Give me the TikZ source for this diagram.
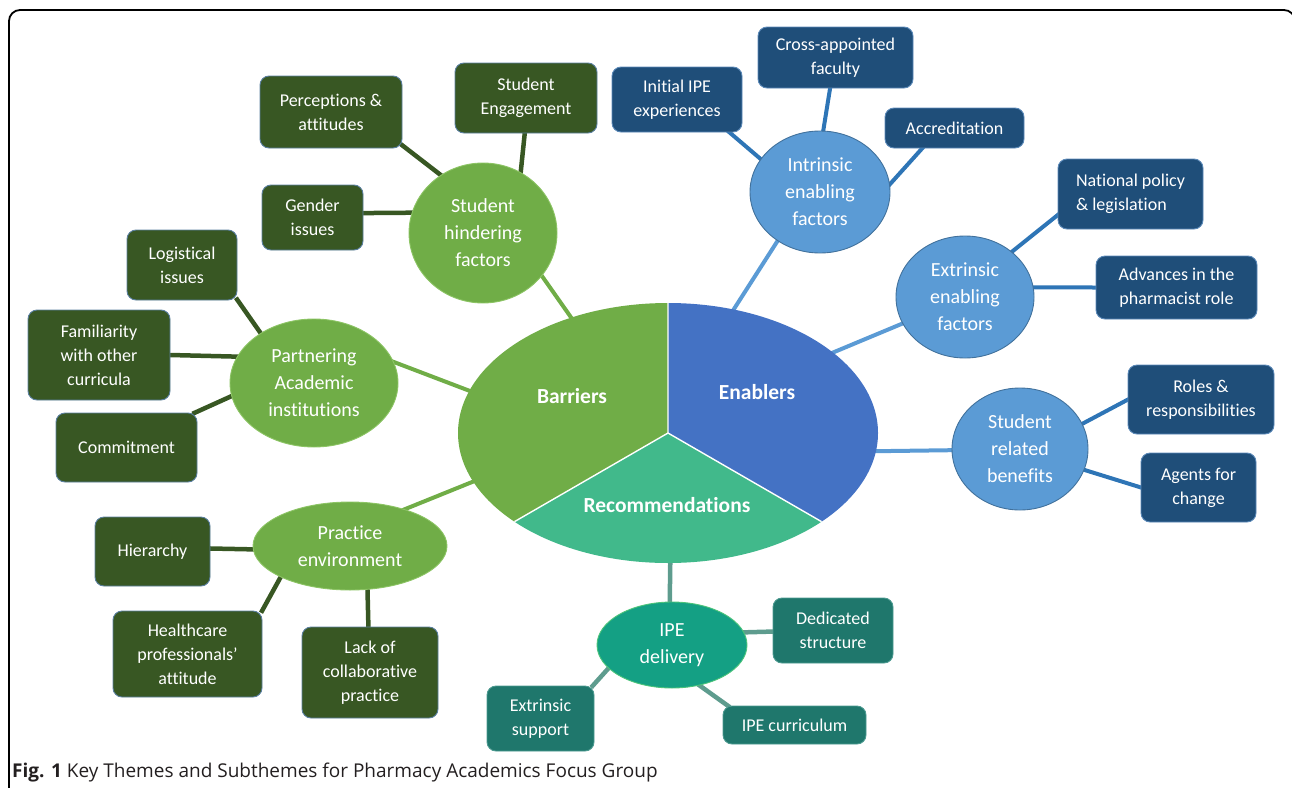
\documentclass[tikz,border=0pt]{standalone}
\usepackage{fontspec}
\setmainfont{Carlito}[Ligatures={NoCommon}]
\newfontfamily\capfont{Open Sans}
\usetikzlibrary{shapes.geometric,calc}
\pgfdeclarelayer{bg}
\pgfsetlayers{bg,main}
\definecolor{dgreen}{HTML}{385723}
\definecolor{lgreen}{HTML}{70AD47}
\definecolor{gcircline}{HTML}{8CC464}
\definecolor{gboxline}{HTML}{5A7FA0}
\definecolor{dblue}{HTML}{1F4E79}
\definecolor{bboxline}{HTML}{5B89B8}
\definecolor{lblue}{HTML}{5B9BD5}
\definecolor{bcircline}{HTML}{41719C}
\definecolor{mblue}{HTML}{2E75B6}
\definecolor{coreblue}{HTML}{4472C4}
\definecolor{corerec}{HTML}{41B98B}
\definecolor{ipefill}{HTML}{14A084}
\definecolor{ipeline}{HTML}{4CC47A}
\definecolor{tboxfill}{HTML}{1F776C}
\definecolor{tboxline}{HTML}{4C9A90}
\definecolor{tline}{HTML}{5E9C8E}
\definecolor{captext}{HTML}{231F20}
\newcommand{\bxf}{\fontsize{18}{24}\selectfont}
\newcommand{\crf}{\fontsize{20}{27}\selectfont}
\newcommand{\lbf}{\fontsize{21.5}{26}\selectfont\bfseries}
\begin{document}
\begin{tikzpicture}[x=1pt,y=-1pt,
  base/.style={align=center, text=white, inner sep=0pt, outer sep=0pt},
  sz/.style 2 args={minimum width=#1, minimum height=#2},
  gbox/.style={base, rectangle, rounded corners=9pt, fill=dgreen, draw=gboxline, line width=0.9pt, font=\bxf},
  bbox/.style={base, rectangle, rounded corners=9pt, fill=dblue, draw=bboxline, line width=0.9pt, font=\bxf},
  tbox/.style={base, rectangle, rounded corners=9pt, fill=tboxfill, draw=tboxline, line width=0.9pt, font=\bxf},
  gcirc/.style={base, ellipse, fill=lgreen, draw=gcircline, line width=0.9pt, font=\crf},
  bcirc/.style={base, ellipse, fill=lblue, draw=bcircline, line width=0.9pt, font=\crf},
  tcirc/.style={base, ellipse, fill=ipefill, draw=ipeline, line width=0.9pt, font=\crf},
  lbl/.style={text=white, inner sep=0pt, font=\lbf},
  conn/.style={shorten <=-2pt, shorten >=-2pt},
  dgline/.style={conn, draw=dgreen, line width=4.5pt},
  lgline/.style={conn, draw=lgreen, line width=4pt},
  mbline/.style={conn, draw=mblue, line width=4pt},
  lbline/.style={conn, draw=lblue, line width=4pt},
  tlink/.style={conn, draw=tline, line width=4.5pt}
]
\useasboundingbox (0,0) rectangle (1292,787);
\draw[line width=1.8pt, rounded corners=11pt] (9,830) -- (9,10) -- (1295,10) -- (1295,830);

% central ellipse
\node[base, ellipse, sz={420pt}{260pt}] (core) at (668,433) {};
\begin{scope}
  \clip (core.center) ellipse [x radius=210pt, y radius=130pt];
  \fill[lgreen] (core.center) -- (668,250) -- (300,250) -- (300,607) -- ($(core.center)!2!(core.210)$) -- cycle;
  \fill[coreblue] (core.center) -- (668,250) -- (1040,250) -- (1040,607) -- ($(core.center)!2!(core.330)$) -- cycle;
  \fill[corerec] (core.center) -- ($(core.center)!2!(core.210)$) -- ($(core.center)!2!(core.330)$) -- cycle;
  \draw[white, line width=1.4pt] (core.center) -- (core.90) (core.center) -- (core.210) (core.center) -- (core.330);
\end{scope}
\node[lbl] (lbar) at (572,396) {Barriers};
\node[lbl] (lena) at (757,392) {Enablers};
\node[lbl] (lrec) at (667,505) {Recommendations};

% barriers
\node[gcirc, sz={148pt}{140pt}] (shf) at (483,233) {Student\\hindering\\factors};
\node[gcirc, sz={168pt}{128pt}] (pai) at (314,383) {Partnering\\Academic\\institutions};
\node[gcirc, sz={194pt}{88pt}] (pe) at (350,546) {Practice\\environment};
\node[gbox, sz={142pt}{72pt}] (per) at (331,112) {Perceptions \&\\attitudes};
\node[gbox, sz={142pt}{70pt}] (eng) at (526,98) {Student\\Engagement};
\node[gbox, sz={101pt}{65pt}] (gen) at (312.5,217.5) {Gender\\issues};
\node[gbox, sz={110pt}{70pt}] (log) at (182,265) {Logistical\\issues};
\node[gbox, sz={142pt}{90pt}] (fam) at (99,355) {Familiarity\\with other\\curricula};
\node[gbox, sz={141pt}{69pt}] (com) at (126.5,447.5) {Commitment};
\node[gbox, sz={115pt}{69pt}] (hie) at (152.5,551.5) {Hierarchy};
\node[gbox, sz={149pt}{86pt}] (hea) at (187.5,654) {Healthcare\\professionals’\\attitude};
\node[gbox, sz={136pt}{91pt}] (lac) at (370,672.5) {Lack of\\collaborative\\practice};

% enablers
\node[bcirc, sz={140pt}{122pt}] (ief) at (820,192) {Intrinsic\\enabling\\factors};
\node[bcirc, sz={138pt}{122pt}] (eef) at (965,297) {Extrinsic\\enabling\\factors};
\node[bcirc, sz={136pt}{122pt}] (srb) at (1020,449) {Student\\related\\benefits};
\node[bbox, sz={130pt}{65pt}] (ini) at (677,99.5) {Initial IPE\\experiences};
\node[bbox, sz={155pt}{61pt}] (cro) at (835.5,57.5) {Cross-appointed\\faculty};
\node[bbox, sz={139pt}{40pt}] (acc) at (954.5,128) {Accreditation};
\node[bbox, sz={145pt}{70pt}, align=left] (nat) at (1130.5,194) {National policy\\\& legislation};
\node[bbox, sz={161pt}{63pt}] (adv) at (1176.5,287.5) {Advances in the\\pharmacist role};
\node[bbox, sz={146pt}{69pt}] (rol) at (1201,399.5) {Roles \&\\responsibilities};
\node[bbox, sz={115pt}{69pt}] (age) at (1198.5,487.5) {Agents for\\change};

% recommendations
\node[tcirc, sz={150pt}{86pt}] (ipe) at (672,645) {IPE\\delivery};
\node[tbox, sz={120pt}{65pt}] (ded) at (833,630.5) {Dedicated\\structure};
\node[tbox, sz={143pt}{38pt}] (cur) at (794.5,725) {IPE curriculum};
\node[tbox, sz={107pt}{65pt}] (ext) at (540.5,718.5) {Extrinsic\\support};

\begin{pgfonlayer}{bg}
\draw[dgline] (per.-25) -- (shf.126);
\draw[dgline] (eng.-92) -- (shf.58);
\draw[dgline] (gen.5) -- (shf.164);
\draw[lgline] (shf.-36) -- (core.130);
\draw[dgline] (log.-32) -- (pai.137);
\draw[dgline] (fam.0) -- (pai.161);
\draw[dgline] (com.27) -- (pai.189);
\draw[lgline] (pai.15) -- (core.168);
\draw[lgline] (pe.34) -- (core.194);
\draw[dgline] (hie.3) -- (pe.182);
\draw[dgline] (hea.30) -- (pe.204);
\draw[dgline] (lac.92) -- (pe.-68);
\draw[mbline] (ini.-32) -- (ief.151);
\draw[mbline] (cro.-100) -- (ief.87);
\draw[mbline] (acc.-148) -- (ief.6);
\draw[lbline] (ief.-131) -- (core.62);
\draw[mbline] (nat.196) -- (eef.44);
\draw[mbline] (adv.180) -- (eef.8);
\draw[lbline] (eef.203) -- (core.26);
\draw[lbline] (srb.181) -- (core.-5);
\draw[mbline] (rol.180) -- (srb.22);
\draw[mbline] (age.180) -- (srb.-18);
\draw[tlink] (core.-89) -- (ipe.93);
\draw[tlink] (ded.181) -- (ipe.10);
\draw[tlink] (cur.164) -- (ipe.-56);
\draw[tlink] (ext.32) -- (ipe.200);
\end{pgfonlayer}

\node[anchor=west, inner sep=0pt, text=captext, font=\capfont\fontsize{19}{22}\selectfont] (cap) at (12,773) {\textbf{Fig. 1} Key Themes and Subthemes for Pharmacy Academics Focus Group};
\end{tikzpicture}
\end{document}
